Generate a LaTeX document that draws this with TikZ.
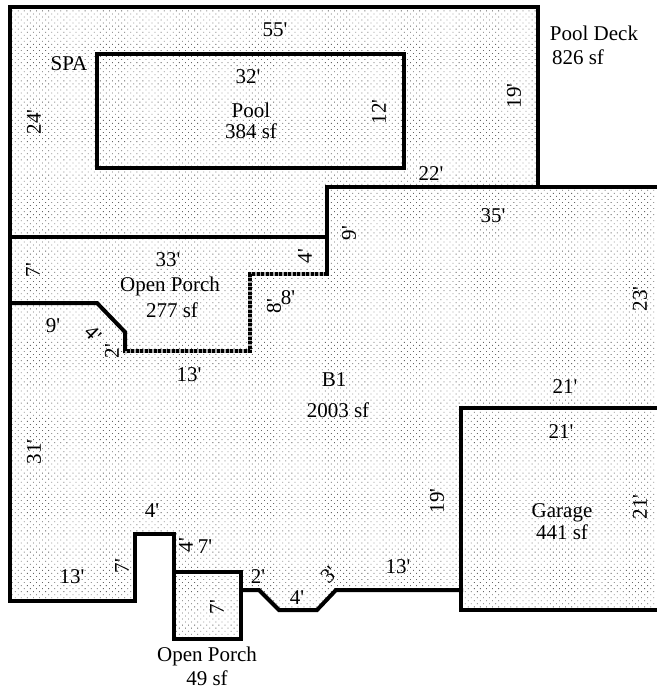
\documentclass[tikz,border=0pt]{standalone}
\usepackage{fontspec}
\setmainfont[Ligatures=TeXOff]{Liberation Serif}
\usetikzlibrary{patterns.meta}
\tikzset{
  wall/.style={line width=4pt, line join=miter, line cap=rect},
  porchwall/.style={line width=4pt, dash pattern=on 3pt off 1.5pt},
  lbl/.style={inner sep=0pt, font=\fontsize{21}{23}\selectfont},
  up/.style={lbl, rotate=90}
}
\begin{document}
\begin{tikzpicture}[x=1pt,y=-1pt]
\useasboundingbox (0,0) rectangle (656,692);
%shading
\fill[pattern={Dots[distance=4.3pt,radius=.6pt,angle=45]}, pattern color=black!60]
  (10,7) -- (538,7) -- (538,187) -- (656,187) -- (656,610) -- (461,610) -- (461,590) -- (336,590) -- (317,610) -- (279,610) -- (259,590) -- (241,590) -- (241,639) -- (174,639) -- (174,534) -- (135,534) -- (135,601) -- (10,601) -- cycle;
%outline
\draw[wall] (538,187) -- (538,7) -- (10,7) -- (10,601) -- (135,601) -- (135,534) -- (174,534) -- (174,639) -- (241,639) -- (241,572) -- (174,572);
\draw[wall] (241,590) -- (259,590) -- (279,610) -- (317,610) -- (336,590) -- (461,590);
\draw[wall] (656,187) -- (327,187) -- (327,274);
\draw[wall] (10,237) -- (327,237);
\draw[wall] (10,303) -- (97,303) -- (125,332) -- (125,351);
\draw[porchwall, black!35, dash pattern={}] (327,274) -- (250,274) -- (250,351) -- (125,351);
\draw[porchwall] (327,274) -- (250,274) -- (250,351) -- (125,351) -- (125,332);
%pool and garage
\draw[wall] (97,54) rectangle (404,168);
\draw[wall] (656,408) -- (461,408) -- (461,610) -- (656,610);
%pool deck
\node[lbl] (deck) at (594,33) {Pool Deck};
\node[lbl] (decksf) at (578,57) {826 sf};
\node[lbl] (spa) at (69,64) {SPA};
\node[lbl] (d55) at (275,30) {55'};
\node[up] (d24) at (34,122) {24'};
\node[up] (d19a) at (514,96) {19'};
\node[lbl] (d22) at (431,174) {22'};
%pool
\node[lbl] (d32) at (248,77) {32'};
\node[lbl] (pool) at (251,110) {Pool};
\node[lbl] (poolsf) at (251,131) {384 sf};
\node[up] (d12) at (379,112) {12'};
%open porch
\node[up] (d7a) at (33,270) {7'};
\node[lbl] (d33) at (168,260) {33'};
\node[lbl] (porch) at (170,286) {Open Porch};
\node[lbl] (porchsf) at (172,310) {277 sf};
\node[up] (d4a) at (305,256) {4'};
\node[up] (d9a) at (349,233) {9'};
\node[up] (d8a) at (274,306) {8'};
\node[lbl] (d8b) at (288,298) {8'};
\node[lbl] (d9b) at (53,326) {9'};
\node[lbl, rotate=-45] (d4b) at (93,334) {4'};
\node[up] (d2a) at (112,351) {2'};
\node[lbl] (d13a) at (189,375) {13'};
%house
\node[lbl] (d35) at (493,216) {35'};
\node[up] (d23) at (640,299) {23'};
\node[lbl] (b1) at (334,380) {B1};
\node[lbl] (b1sf) at (338,410) {2003 sf};
\node[up] (d31) at (34,452) {31'};
\node[up] (d19b) at (437,501) {19'};
\node[lbl] (d13b) at (72,577) {13'};
\node[up] (d7b) at (122,566) {7'};
\node[lbl] (d4c) at (152,511) {4'};
\node[up] (d4d) at (186,545) {4'};
\node[lbl] (d7c) at (205,547) {7'};
\node[lbl] (d2b) at (258,577) {2'};
\node[lbl] (d4e) at (297,598) {4'};
\node[lbl, rotate=45] (d3) at (329,575) {3'};
\node[lbl] (d13c) at (398,567) {13'};
%garage
\node[lbl] (d21a) at (565,387) {21'};
\node[lbl] (d21b) at (561,432) {21'};
\node[lbl] (garage) at (562,513) {Garage};
\node[lbl] (garagesf) at (562,532) {441 sf};
\node[up] (d21c) at (640,507) {21'};
%small porch
\node[up] (d7d) at (217,607) {7'};
\node[lbl] (porchb) at (207,656) {Open Porch};
\node[lbl] (porchbsf) at (207,678) {49 sf};
\end{tikzpicture}
\end{document}
